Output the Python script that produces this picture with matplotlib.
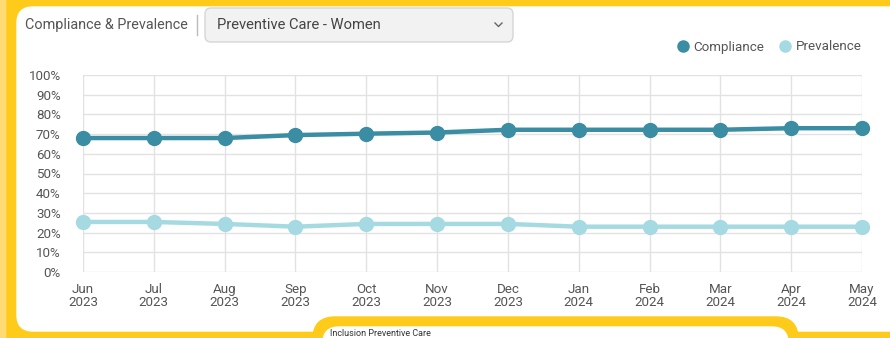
import matplotlib.pyplot as plt
from matplotlib.patches import FancyBboxPatch, Rectangle
from matplotlib.lines import Line2D

plt.rcParams['font.family'] = ['Roboto', 'DejaVu Sans']

months = ['Jun\n2023', 'Jul\n2023', 'Aug\n2023', 'Sep\n2023', 'Oct\n2023', 'Nov\n2023',
          'Dec\n2023', 'Jan\n2024', 'Feb\n2024', 'Mar\n2024', 'Apr\n2024', 'May\n2024']
compliance = [68.0, 68.0, 68.0, 69.5, 70.2, 70.8, 72.2, 72.2, 72.2, 72.2, 73.0, 73.0]
prevalence = [25.4, 25.4, 24.4, 23.0, 24.4, 24.4, 24.4, 23.0, 23.0, 23.0, 23.0, 23.0]
y_ticks = list(range(0, 101, 10))

dark = '#3A8DA2'
light = '#A6DAE3'
text_color = '#555555'
grid_color = '#E2E2E2'
yellow = '#FFCB1A'

W, H = 890, 338
fig = plt.figure(figsize=(W / 100, H / 100), dpi=100)

# background, pixel coordinates
bg = fig.add_axes([0, 0, 1, 1], zorder=0)
bg.set_xlim(0, W)
bg.set_ylim(H, 0)
bg.axis('off')
bg.add_patch(Rectangle((0, 0), W, H, color='#FFDC73'))
bg.add_patch(FancyBboxPatch((7, -20), W + 20, H + 40, boxstyle='round,pad=0,rounding_size=20',
                            color=yellow))
bg.add_patch(FancyBboxPatch((17, 7), W + 20, 324, boxstyle='round,pad=0,rounding_size=16',
                            color='white'))
# second card peeking in at the bottom
bg.add_patch(FancyBboxPatch((313, 317), 485, 60, boxstyle='round,pad=0,rounding_size=22',
                            color=yellow))
bg.add_patch(FancyBboxPatch((323, 327), 465, 60, boxstyle='round,pad=0,rounding_size=16',
                            color='white'))
bg.text(330, 333, 'Inclusion Preventive Care', fontsize=6.5, color='#333333',
        ha='left', va='center')

# header
bg.text(25, 25, 'Compliance & Prevalence', fontsize=10.4, color=text_color, va='center', ha='left')
bg.plot([197, 197], [15, 35], color='#BBBBBB', lw=1)
bg.add_patch(FancyBboxPatch((205, 8), 308, 34, boxstyle='round,pad=0,rounding_size=6',
                            facecolor='#F2F2F2', edgecolor='#D6D6D6', lw=1))
bg.text(217, 25, 'Preventive Care - Women', fontsize=10.6, color='#444444', va='center', ha='left')
bg.plot([495, 498.5, 502], [23, 26.5, 23], color='#666666', lw=1)

# chart
ax = fig.add_axes([83 / W, (H - 272) / H, (862 - 83) / W, (272 - 75) / H], zorder=1)
ax.patch.set_alpha(0)
x = range(len(months))
ax.plot(x, compliance, color=dark, lw=3.2, marker='o', markersize=10,
        solid_capstyle='round', clip_on=False, zorder=3)
ax.plot(x, prevalence, color=light, lw=3.2, marker='o', markersize=10,
        solid_capstyle='round', clip_on=False, zorder=3)

ax.set_xlim(0, len(months) - 1)
ax.set_ylim(0, 100)
ax.set_yticks(y_ticks)
ax.set_yticklabels([f'{v}%' for v in y_ticks])
ax.set_xticks(list(x))
ax.set_xticklabels(months, linespacing=0.95)
ax.tick_params(length=0, labelsize=9.6, labelcolor=text_color)
ax.tick_params(axis='y', pad=16)
ax.tick_params(axis='x', pad=8)
ax.grid(True, color=grid_color, lw=1)
for side in ['right', 'left', 'top', 'bottom']:
    ax.spines[side].set_visible(False)

handles = [Line2D([], [], color=dark, marker='o', markersize=8, linestyle='None'),
           Line2D([], [], color=light, marker='o', markersize=8, linestyle='None')]
ax.legend(handles, ['Compliance', 'Prevalence'], loc='center right',
          bbox_to_anchor=(1.0, 1 + 28 / 197), ncol=2, frameon=False,
          fontsize=9.6, labelcolor=text_color, handlelength=0.6, handletextpad=0.5,
          columnspacing=1.3, borderaxespad=0, borderpad=0)

fig.savefig('out.png', dpi=100)
